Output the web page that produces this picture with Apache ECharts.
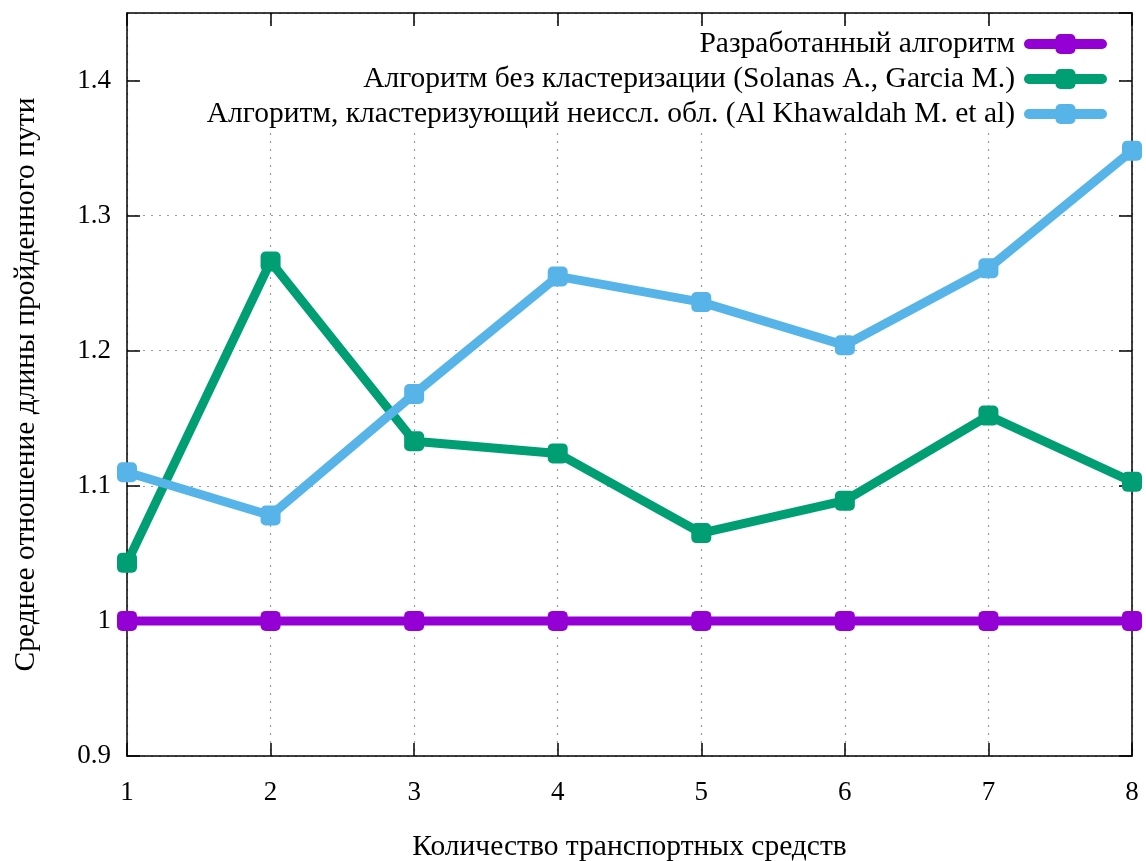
<!DOCTYPE html>
<html>
<head>
<meta charset="utf-8">
<script src="https://cdn.jsdelivr.net/npm/echarts@6/dist/echarts.min.js"></script>
<style>
  html, body { margin: 0; padding: 0; background: #fff; }
  #chart { width: 1146px; height: 861px; }
</style>
</head>
<body>
<div id="chart"></div>
<script>
// Number of vehicles (x) and mean path-length ratio for each algorithm
const vehicles = [1, 2, 3, 4, 5, 6, 7, 8];
const developed = [1.0, 1.0, 1.0, 1.0, 1.0, 1.0, 1.0, 1.0];
const noClustering = [1.043, 1.266, 1.133, 1.124, 1.065, 1.089, 1.152, 1.103];
const clusteringUnexplored = [1.110, 1.078, 1.168, 1.255, 1.236, 1.204, 1.261, 1.348];

const seriesNames = [
  'Разработанный алгоритм',
  'Алгоритм без кластеризации (Solanas A., Garcia M.)',
  'Алгоритм, кластеризующий неиссл. обл. (Al Khawaldah M. et al)'
];
const seriesColors = ['#9400d3', '#009e73', '#56b4e9'];
const seriesData = [developed, noClustering, clusteringUnexplored];

const FONT = '"Liberation Serif", "DejaVu Serif", serif';
const FS_TICK = 27;
const FS_TEXT = 29.5;

const chart = echarts.init(document.getElementById('chart'));

const tickStyle = { show: true, inside: true, length: 13, lineStyle: { color: '#000', width: 1.5 } };
const lineStyle = { show: true, lineStyle: { color: '#000', width: 1.5 } };
const gridDots = { show: true, lineStyle: { color: '#9a9a9a', width: 1.2, type: [2, 6] } };

const xBase = { type: 'value', min: 1, max: 8, interval: 1, gridIndex: 0 };
const yBase = { type: 'value', min: 0.9, max: 1.45, interval: 0.1, gridIndex: 0 };

chart.setOption({
  animation: false,
  backgroundColor: '#fff',
  textStyle: { fontFamily: FONT },
  grid: { left: 127, right: 14, top: 13, bottom: 105, containLabel: false, outerBoundsMode: 'none' },
  xAxis: [
    Object.assign({}, xBase, {
      position: 'bottom',
      axisLine: lineStyle, axisTick: tickStyle,
      splitLine: gridDots,
      axisLabel: { color: '#000', fontFamily: FONT, fontSize: FS_TICK, margin: 23 },
      name: 'Количество транспортных средств',
      nameLocation: 'middle', nameGap: 76,
      nameTextStyle: { color: '#000', fontFamily: FONT, fontSize: FS_TEXT }
    }),
    Object.assign({}, xBase, {
      position: 'top',
      axisLine: lineStyle, axisTick: tickStyle,
      splitLine: { show: false }, axisLabel: { show: false }
    })
  ],
  yAxis: [
    Object.assign({}, yBase, {
      position: 'left',
      axisLine: lineStyle, axisTick: tickStyle,
      splitLine: gridDots,
      axisLabel: {
        color: '#000', fontFamily: FONT, fontSize: FS_TICK, margin: 16,
        showMaxLabel: false,
        formatter: v => String(Math.round(v * 10) / 10)
      },
      name: 'Среднее отношение длины пройденного пути',
      nameLocation: 'middle', nameGap: 86, nameRotate: 90,
      nameTextStyle: { color: '#000', fontFamily: FONT, fontSize: FS_TEXT }
    }),
    Object.assign({}, yBase, {
      position: 'right',
      axisLine: lineStyle, axisTick: tickStyle,
      splitLine: { show: false }, axisLabel: { show: false }
    })
  ],
  // opaque key area: hides the grid behind the legend
  graphic: [{
    type: 'rect', z: 1,
    shape: { x: 141, y: 28, width: 977, height: 100 },
    style: { fill: '#fff' }
  }],
  legend: seriesNames.map((name, i) => ({
    data: [name],
    right: 39,
    top: 29 + i * 35,
    align: 'right',
    itemWidth: 73,
    itemHeight: 25,
    itemGap: 0,
    padding: 0,
    selectedMode: false,
    lineStyle: { width: 10, cap: 'round' },
    textStyle: { color: '#000', fontFamily: FONT, fontSize: FS_TEXT, padding: [0, 9, 0, 0] }
  })),
  series: seriesData.map((vals, i) => ({
    name: seriesNames[i],
    type: 'line',
    xAxisIndex: 0, yAxisIndex: 0,
    data: vehicles.map((x, k) => [x, vals[k]]),
    symbol: 'roundRect',
    symbolSize: 20,
    showSymbol: true,
    clip: false,
    z: 3 + i,
    color: seriesColors[i],
    lineStyle: { color: seriesColors[i], width: 9, cap: 'round', join: 'round' },
    itemStyle: { color: seriesColors[i] },
    emphasis: { disabled: true }
  }))
});
</script>
</body>
</html>
